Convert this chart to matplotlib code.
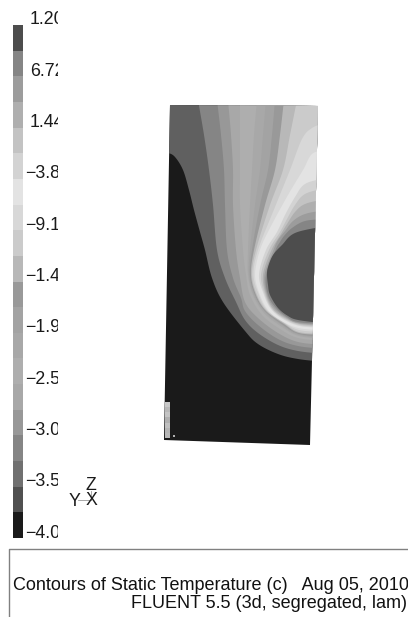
import numpy as np
import matplotlib
matplotlib.use("Agg")
import matplotlib.pyplot as plt
from matplotlib.patches import Polygon, Rectangle

plt.rcParams['font.family'] = ['Liberation Sans', 'DejaVu Sans']

bar_greys = [0x4d,0x85,0x9c,0xaf,0xc3,0xd3,0xe3,0xd8,0xcb,0xb8,
             0x99,0xa3,0xa8,0xae,0xa8,0x98,0x85,0x70,0x50,0x1a]
bar_labels = ["1.20","6.72","1.44","\u22123.8","\u22129.1","\u22121.4",
              "\u22121.9","\u22122.5","\u22123.0","\u22123.5","\u22124.0"]
domain = [(170,105),(318,106),(310,445),(164,440)]

# contour boundaries, outermost first: (grey inside, curve)
b_base = 0x1a
bands = [
 (0x60,[(160,153),(168,153),(175,157),(183,170),(189,190),(194,210),(200,232),(205,250),(212,278),(223,302),(245,331),(258,344),(278,354),(298,359),(325,362)]),
 (0x85,[(198,100),(204,135),(209,170),(213,205),(217,250),(225,278),(236,302),(245,320),(258,333),(278,345),(298,351),(325,354)]),
 (0x98,[(217,100),(221,135),(224,170),(225,205),(227,250),(233,278),(241,298),(245,311),(258,325),(278,339),(298,346),(325,349)]),
 (0xa8,[(228,100),(231,135),(233,170),(233,205),(236,250),(240,278),(245,302),(258,318),(278,333),(298,342),(325,345)]),
 (0xae,[(240,100),(240,135),(240,170),(240,205),(243,250),(246,275),(250,295),(262,315),(280,329),(298,338),(325,341)]),
 (0xa8,[(257,100),(254,135),(252,170),(250,205),(248,250),(248,275),(253,295),(264,313),(282,327),(299,336),(325,339)]),
 (0xa3,[(266,100),(263,135),(260,170),(255,205),(250,250),(249,275),(254,295),(265,312),(283,326),(299,335),(325,338)]),
 (0x99,[(275,100),(272,135),(268,170),(260,205),(252,250),(250,275),(255,295),(265,311),(283,325),(299,334),(325,337)]),
 (0xb8,[(284,100),(280,135),(275,170),(265,205),(254,250),(251,275),(256,295),(266,311),(284,324),(299,333),(325,335)]),
 (0xcb,[(297,100),(290,135),(283,170),(270,205),(256,250),(252,275),(257,295),(267,311),(284,323),(299,332),(325,334)]),
 (0xd8,[(325,123),(312,128),(302,139),(290,170),(275,207),(258,250),(253.5,275),(259,295),(267,310),(282,321),(299,330),(325,332)]),
 (0xe3,[(325,150),(312,154),(303,170),(288,195),(270,228),(260,250),(255,275),(260,295),(268,310),(280,320),(298,328),(325,330.5)]),
 (0xd3,[(325,178),(305,184),(295,197),(285,215),(277,232),(266,250),(259,275),(264,295),(271,309),(283,319),(300,326),(325,328)]),
 (0xc3,[(325,188),(305,194),(295,205),(287,219),(280,232),(269,250),(261,275),(265,295),(272,309),(284,318.5),(300,325),(325,327)]),
 (0xaf,[(325,199),(305,204),(295,212),(287,224),(281,234),(271.5,250),(263,275),(266,295),(273,309),(285,318),(300,324),(325,326)]),
 (0x9c,[(325,210),(305,214),(293,221),(285,231),(278,240),(273.5,250),(264.5,275),(267,295),(274,308),(286,317.5),(298,323),(325,325)]),
 (0x85,[(325,219),(305,221),(292,228),(284,236),(280,242),(275.5,250),(266,275),(268,295),(276,308),(287,317),(298,322),(325,324)]),
 (0x4d,[(325,226),(295,233),(282,245),(273,255),(268,267),(267,275),(268,285),(270,295),(278,308),(288,316),(298,320),(325,323.5)]),
]
strip_greys = [0xc8,0xb8,0xc4,0xb0,0xc0,0xb4,0xb8]

def grey(v):
    return (v/255, v/255, v/255)

def smooth(points, n=12):
    p = np.array(points, float)
    q = np.vstack([2*p[0]-p[1], p, 2*p[-1]-p[-2]])
    out = []
    for i in range(1, len(q)-2):
        for t in np.linspace(0, 1, n, endpoint=False):
            out.append(0.5*((2*q[i]) + (q[i+1]-q[i-1])*t
                       + (2*q[i-1]-5*q[i]+4*q[i+1]-q[i+2])*t*t
                       + (3*q[i]-q[i-1]-3*q[i+1]+q[i+2])*t**3))
    out.append(p[-1])
    return np.array(out)

fig = plt.figure(figsize=(4.08,6.17), dpi=100)
ax = fig.add_axes([0,0,1,1])
ax.set_xlim(0,408); ax.set_ylim(617,0); ax.axis('off')

# colour bar
n = len(bar_greys)
edges = np.linspace(25,538,n+1)
for i,g in enumerate(bar_greys):
    ax.add_patch(Rectangle((13,edges[i]),9.5,edges[i+1]-edges[i],fc=grey(g),ec='none'))
clip = Rectangle((0,0),58,617,transform=ax.transData)
label_y = np.linspace(20,533,len(bar_labels))
for s,y in zip(bar_labels,label_y):
    x = 25 if s.startswith("\u2212") else 30
    t = ax.text(x,y,s,fontsize=12.8,color='#1a1a1a',va='center',ha='left')
    t.set_clip_path(clip); t.set_clip_on(True)

# contour field
quad = Polygon(domain,closed=True,transform=ax.transData,fc=grey(b_base),ec='none')
ax.add_patch(quad)
for g,curve in bands:
    c = smooth(curve)
    poly = np.vstack([c,[(340,c[-1,1]),(340,80),(c[0,0],80)]])
    pp = Polygon(poly,closed=True,fc=grey(g),ec='none')
    ax.add_patch(pp)
    pp.set_clip_path(quad)
# light strip at the lower-left corner
sy = np.linspace(402,438,len(strip_greys)+1)
for i,g in enumerate(strip_greys):
    r = Rectangle((164.5,sy[i]),5,sy[i+1]-sy[i],fc=grey(g),ec='none')
    ax.add_patch(r); r.set_clip_path(quad)
ax.add_patch(Rectangle((173,435),1.5,2,fc=grey(0xb0),ec='none'))

# axes triad
ax.plot([78,91],[500,500],color='#999999',lw=0.6)
ax.plot([91,91],[491,500],color='#999999',lw=0.6)
ax.text(75,501,"Y",fontsize=12.8,color='#1a1a1a',ha='center',va='center')
ax.text(91,485,"Z",fontsize=12.8,color='#1a1a1a',ha='center',va='center')
ax.text(92,500.5,"X",fontsize=12.8,color='#1a1a1a',ha='center',va='center')

# title panel
ax.plot([8.5,8.5,408],[616,548.5,548.5],color='#808080',lw=1)
ax.text(13,585,"Contours of Static Temperature (c)   Aug 05, 2010",fontsize=13,color='#111111',va='center',ha='left',clip_on=True)
ax.text(131,604,"FLUENT 5.5 (3d, segregated, lam)",fontsize=13,color='#111111',va='center',ha='left',clip_on=True)

fig.savefig("out.png",dpi=100)
